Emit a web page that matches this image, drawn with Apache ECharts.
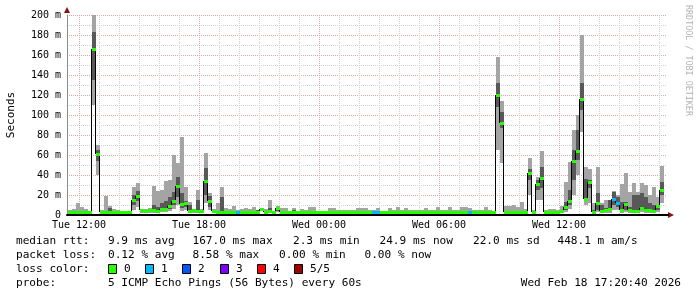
<!DOCTYPE html>
<html><head><meta charset="utf-8">
<script src="https://cdn.jsdelivr.net/npm/echarts@6/dist/echarts.min.js"></script>
<style>html,body{margin:0;padding:0;background:#fff}#c{width:697px;height:297px}</style>
</head><body><div id="c"></div>
<script>
// ---- time axis (minutes since Tue 00:00) ----
const axisStart = 684;   // Tue 11:24
const axisEnd = 2484;    // Wed 17:24
const slotStart = 687;   // first sample slot
const slotMin = 12;      // minutes per slot
const tickValues = [720, 1080, 1440, 1800, 2160];
const tickLabels = ['Tue 12:00', 'Tue 18:00', 'Wed 00:00', 'Wed 06:00', 'Wed 12:00'];

// ---- smoke / median data (ms), per 12-minute slot ----
const mins = [
  2,2,2,2,2,2,110,40,2,2,
  2,2,2,2,2,2,5,8,2,2,
  2,2,2,3,3,4,6,10,4,5,
  2,2,3,2,12,5,2,2,2,2,
  2,2,2,2,2,2,2,2,4,2,
  2,2,3,2,2,2,2,2,2,2,
  2,2,2,2,2,2,2,2,2,2,
  2,2,2,2,2,2,2,2,2,2,
  2,2,2,2,2,2,2,2,2,2,
  2,2,2,2,2,2,2,2,2,2,
  2,2,2,2,2,2,2,65,52,2,
  2,2,2,2,2,20,2,15,15,2,
  2,2,2,2,3,6,20,40,83,10,
  12,2,3,2,2,2,5,5,2,3,
  2,2,2,3,2,2,2,3,12,null
];
const p2s = [
  2.5,2.5,3,2.5,2.5,2.5,135,54,2.5,3,
  3,2.5,2.5,2.5,2.5,2.5,10,14,3,3,
  3,4,3,4,5,6,10,18,7,8,
  3,3,4,3,20,8,3,2.5,3,2.5,
  2.5,2.5,2.2,2.5,2.5,2.5,2.5,2.5,5,2.5,
  4,2.5,4,2.5,2.5,2.5,2.5,2.5,2.5,2.5,
  2.5,2.5,2.2,2.2,2.2,2.5,2.5,2.2,2.2,2.2,
  2.2,2.2,2.2,2.2,2.2,2.2,2.2,2.2,2.2,2.2,
  2.2,2.2,2.2,2.2,2.2,2.2,2.2,2.2,2.2,2.2,
  2.2,2.2,2.2,2.2,2.2,2.2,2.2,2.2,2.2,2.2,
  2.2,2.2,2.2,2.2,2.2,2.2,2.2,108,87,2.5,
  2.5,2.5,2.5,2.5,2.5,35,2.5,25,27,2.5,
  2.5,2.5,2.5,3,5,10,35,55,105,14,
  27,2.5,5,3,3,4,10,8,3,5,
  3,3,3,5,3,3,3,5,20,null
];
const medians = [
  3,3,3,3,3,3,166,61,3,3,
  3,3,3,3,3,3,15,19,5,4,
  5,5,4,6,6,9,14,29,11,12,
  4,5,4,4,34,14,4,3,3,3,
  3,3,2.5,3,3,3,3,3,6,3,
  4,3,7,3,3,3,3,3,3,3,
  3,3,2.5,2.5,2.5,3,3,2.5,2.5,2.5,
  2.5,2.5,2.5,2.5,2.5,2.5,2.5,2.5,2.5,2.5,
  2.5,2.5,2.5,2.5,2.5,2.5,2.5,2.5,2.5,2.5,
  2.5,2.5,2.5,2.5,2.5,2.5,2.5,2.5,2.5,2.5,
  2.5,2.5,2.5,2.5,2.5,2.5,2.5,120,92,3,
  3,3,3,3,3,42,3,31,37,3,
  3,3,3,4,8,14,54,64,116,16,
  33,3,12,4,5,6,16,12,5,11,
  5,4,4,7,5,5,4,9,25,null
];
const p4s = [
  4,3.5,4,4,3.5,3.5,183,65,4,4,
  7,4,4,3.5,3.5,3.5,20,24,6,5,
  6,10,8,12,14,18,23,38,22,14,
  10,5,15,5,47,19,5,4,18,3.5,
  3.5,4,3,3.5,3.5,3.5,4,5,6.5,4,
  7,3.2,7.5,3.5,3.5,3.5,5,3.5,3.5,3.5,
  4,3.5,3,3,3,3.5,4,3,3,3,
  3,3,3,3,3,3,4,3,3,3,
  3,3,3,3,3,4,3,3,3,3,
  3,3,3,3,3,3,3,3,3,4,
  3,3,4,3,3,3,3,132,103,4,
  4,4,4,4,3.5,46,3.5,35,48,3.5,
  3.5,3.5,3.5,5,13,25,65,85,132,36,
  35,5,22,10,7,15,23,18,13,13,
  8,20,20,22,18,12,10,10,33,null
];
const maxs = [
  5,6,12,8,6,4,205,70,5,19,
  9,6,5,4,4,4,28,32,6,6,
  7,29,24,25,34,35,60,52,78,28,
  13,6,25,6,62,22,6,12,28,7,
  6,9,5,6,7,6,8,5,7,6,
  15,3.5,9,7,7,4,7,4,6,5,
  8,8,4,4,4,7,7,5,5,5,
  5,5,7,7,7,5,5,7,4,4,
  7,5,8,5,7,5,5,5,5,7,
  5,5,8,5,5,8,5,5,8,8,
  7,5,5,5,8,5,4,158,114,9,
  9,10,8,13,6,57,5,38,64,5,
  6,6,5,9,33,53,85,100,180,48,
  46,12,48,12,15,15,24,20,31,42,
  23,32,23,32,30,20,28,18,49,null
];
const losses = [
  0,0,0,0,0,0,0,0,0,0,
  0,0,0,0,0,0,0,0,0,0,
  0,0,0,0,0,0,0,0,0,0,
  0,0,0,0,0,0,0,0,0,0,
  0,0,1,0,0,0,0,0,0,0,
  0,0,0,0,0,0,0,0,0,0,
  0,0,0,0,0,0,0,0,0,0,
  0,0,0,0,0,0,1,1,0,0,
  0,0,0,0,0,0,0,0,0,0,
  0,0,0,0,0,0,0,0,0,0,
  1,0,0,0,0,0,0,0,0,0,
  0,0,0,0,0,0,0,0,0,0,
  0,0,0,0,0,0,0,0,0,0,
  0,0,0,0,0,0,1,1,0,0,
  0,0,0,0,0,0,0,0,0,0
];

// ---- legend ----
const lossColors = ['#26ff00', '#00b8ff', '#0059ff', '#7e00ff', '#ff0000', '#a00000'];
const lossLabels = ['0', '1', '2', '3', '4', '5/5'];
const rttLine = ['median rtt:', '9.9 ms avg', '167.0 ms max', '2.3 ms min', '24.9 ms now', '22.0 ms sd', '448.1 m am/s'];
const lossLine = ['packet loss:', '0.12 % avg', '8.58 % max', '0.00 % min', '0.00 % now'];
const lossColorTitle = 'loss color:';
const probeLine = ['probe:', '5 ICMP Echo Pings (56 Bytes) every 60s'];
const dateStamp = 'Wed Feb 18 17:20:40 2026';
const yTitle = 'Seconds';
const watermark = 'RRDTOOL / TOBI OETIKER';

// ---- layout / style ----
const MONO = '"DejaVu Sans Mono", "Liberation Mono", monospace';
const rttX = [16, 108, 192.5, 293, 379.5, 473, 557.5];
const lossX = [16, 108, 192.5, 279, 364.5];
const rowY = [241, 255, 269, 283];
const majorGrid = '#dba7a7';
const minorGrid = '#cfcfcf';

const slotData = medians.map((m, i) => [slotStart + i * slotMin, mins[i], p2s[i], m, p4s[i], maxs[i], losses[i]]);

// split-line colours: one tick every 12 min, 30 ticks per 6 h; index 3 = 12:00
const xGridColors = [];
for (let k = 0; k < 30; k++) {
  if (k === 3) xGridColors.push(majorGrid);
  else if ((k - 3) % 5 === 0) xGridColors.push(minorGrid);
  else xGridColors.push('rgba(0,0,0,0)');
}

function isNum(v) { return v !== null && v !== undefined && !isNaN(v); }

function smokeItem(params, api) {
  const t = api.value(0), mn = api.value(1);
  if (!isNum(mn)) return null;
  const a = api.value(2), b = api.value(4), mx = api.value(5);
  const L = Math.round(api.coord([t, 0])[0]);
  const R = Math.round(api.coord([t + slotMin, 0])[0]);
  const yMn = Math.round(api.coord([t, mn])[1]), yMx = Math.round(api.coord([t, mx])[1]);
  const yA = Math.round(api.coord([t, a])[1]), yB = Math.round(api.coord([t, b])[1]);
  return {
    type: 'group', children: [
      { type: 'rect', shape: { x: L, y: yMx, width: R - L, height: yMn - yMx }, style: { fill: '#a4a4a4' } },
      { type: 'rect', shape: { x: L, y: yB, width: R - L, height: yA - yB }, style: { fill: '#585858' } }
    ]
  };
}
function stepItem(params, api) {
  const i = params.dataIndexInside;
  if (i === 0) return null;
  const t = api.value(0), m = api.value(3), pm = api.value(3, i - 1);
  if (!isNum(m) || !isNum(pm)) return null;
  const x = Math.round(api.coord([t, 0])[0]) - 0.5;
  return {
    type: 'line',
    shape: { x1: x, y1: api.coord([t, pm])[1], x2: x, y2: api.coord([t, m])[1] },
    style: { stroke: '#000', lineWidth: 1 }
  };
}
function medItem(params, api) {
  const t = api.value(0), m = api.value(3);
  if (!isNum(m)) return null;
  const L = Math.round(api.coord([t, 0])[0]);
  const R = Math.round(api.coord([t + slotMin, 0])[0]);
  const y = api.coord([t, m])[1];
  return {
    type: 'rect',
    shape: { x: L, y: Math.round(y - 1.5), width: R - L, height: 3 },
    style: { fill: lossColors[api.value(6)] }
  };
}

const chart = echarts.init(document.getElementById('c'), null, { renderer: 'canvas' });

const graphics = [];
function txt(x, y, s, extra) {
  graphics.push(Object.assign({
    type: 'text', x: x, y: y, silent: true,
    style: Object.assign({ text: s, font: '11.1px ' + MONO, fill: '#000', verticalAlign: 'middle', align: 'left' }, extra || {})
  }));
}
rttLine.forEach((s, i) => txt(rttX[i], rowY[0], s));
lossLine.forEach((s, i) => txt(lossX[i], rowY[1], s));
txt(16, rowY[2], lossColorTitle);
lossLabels.forEach((s, i) => {
  const bx = 108 + i * 37.2;
  graphics.push({ type: 'rect', silent: true, shape: { x: Math.round(bx) + 0.5, y: rowY[2] - 4.5, width: 8, height: 9 },
    style: { fill: lossColors[i], stroke: '#000', lineWidth: 1 } });
  txt(Math.round(bx) + 16, rowY[2], s);
});
txt(16, rowY[3], probeLine[0]);
txt(108, rowY[3], probeLine[1]);
txt(681, rowY[3], dateStamp, { align: 'right' });
graphics.push({ type: 'text', x: 11, y: 115, rotation: Math.PI / 2, silent: true,
  style: { text: yTitle, font: '11px ' + MONO, fill: '#000', align: 'center', verticalAlign: 'middle' } });
graphics.push({ type: 'text', x: 688, y: 5, rotation: -Math.PI / 2, silent: true,
  style: { text: watermark, font: '8.4px ' + MONO, fill: '#b4b4b4', align: 'left', verticalAlign: 'middle' } });

chart.setOption({
  animation: false,
  backgroundColor: '#ffffff',
  grid: { left: 67, right: 30, top: 15, bottom: 82, containLabel: false },
  xAxis: {
    type: 'value', min: axisStart, max: axisEnd, interval: slotMin,
    axisLine: { show: true, lineStyle: { color: '#000', width: 2 } },
    axisTick: { show: false },
    axisLabel: {
      margin: 5, color: '#000', fontFamily: MONO, fontSize: 10, showMinLabel: true, showMaxLabel: true,
      formatter: v => { const k = tickValues.indexOf(v); return k >= 0 ? tickLabels[k] : ''; }
    },
    splitLine: { show: true, lineStyle: { color: xGridColors, type: [1, 1], width: 1 } }
  },
  yAxis: {
    type: 'value', min: 0, max: 200, interval: 10,
    axisLine: { show: true, lineStyle: { color: '#8c8c8c', width: 1 } },
    axisTick: { show: false },
    axisLabel: {
      margin: 6, color: '#000', fontFamily: MONO, fontSize: 10,
      formatter: v => (v % 20 !== 0 ? '' : (v === 0 ? '0' : v + ' m'))
    },
    splitLine: { show: true, lineStyle: { color: [majorGrid, minorGrid], type: [1, 1], width: 1 } }
  },
  series: [
    { type: 'custom', name: 'smoke', renderItem: smokeItem, data: slotData, clip: true, z: 2,
      encode: { x: 0, y: 3 }, silent: true },
    { type: 'custom', name: 'step', renderItem: stepItem, data: slotData, clip: true, z: 3,
      encode: { x: 0, y: 3 }, silent: true },
    { type: 'custom', name: 'median', renderItem: medItem, data: slotData, clip: true, z: 4,
      encode: { x: 0, y: 3 }, silent: true }
  ],
  graphic: graphics
});

// axis arrows (decoration), placed from the axis extents
const pOrigin = chart.convertToPixel({ gridIndex: 0 }, [axisStart, 0]);
const pTop = chart.convertToPixel({ gridIndex: 0 }, [axisStart, 200]);
const pRight = chart.convertToPixel({ gridIndex: 0 }, [axisEnd, 0]);
const arrowColor = '#8b1010';
chart.setOption({
  graphic: graphics.concat([
    { type: 'polygon', silent: true, shape: { points: [[pOrigin[0] - 3, pTop[1] - 2], [pOrigin[0] + 3, pTop[1] - 2], [pOrigin[0], pTop[1] - 8]] }, style: { fill: arrowColor } },
    { type: 'polygon', silent: true, shape: { points: [[pRight[0] + 1, pOrigin[1] - 3], [pRight[0] + 1, pOrigin[1] + 3], [pRight[0] + 7, pOrigin[1]]] }, style: { fill: arrowColor } },
    { type: 'rect', silent: true, shape: { x: pRight[0], y: pOrigin[1] - 1, width: 2, height: 2 }, style: { fill: '#000' } }
  ])
});
</script>
</body></html>
